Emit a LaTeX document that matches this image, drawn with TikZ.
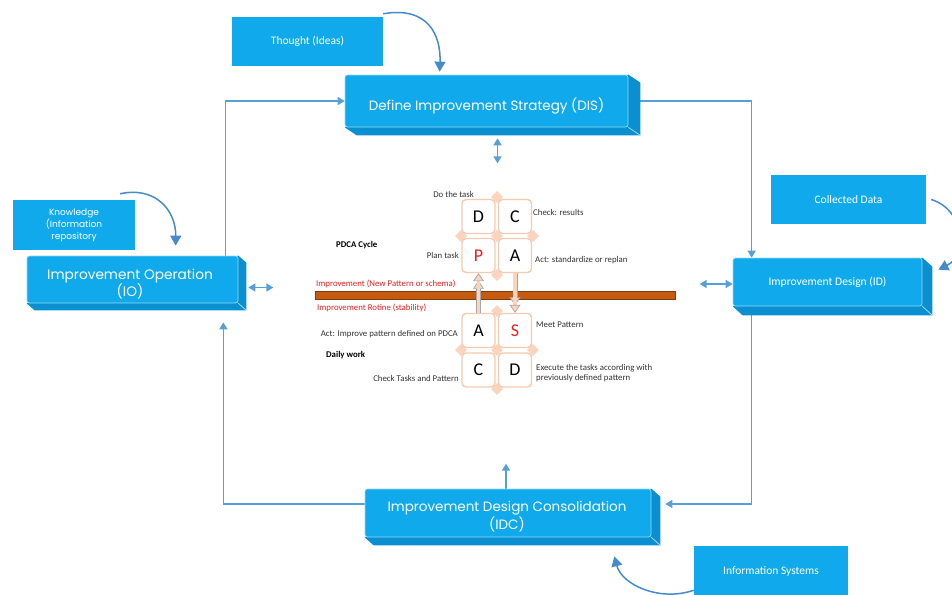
\documentclass[tikz,border=0pt]{standalone}
\usepackage{fontspec}
\setmainfont{Carlito}
\newfontfamily\gothic{Poppins}
\usetikzlibrary{calc,arrows.meta,backgrounds,shapes.geometric}

\definecolor{boxblue}{RGB}{16,170,236}
\definecolor{slabblue}{RGB}{10,143,208}
\definecolor{linkblue}{RGB}{86,160,218}
\definecolor{curveblue}{RGB}{70,140,205}
\definecolor{peachline}{RGB}{246,202,174}
\definecolor{peachfill}{RGB}{250,212,188}
\definecolor{barbrown}{RGB}{197,90,17}
\definecolor{bardark}{RGB}{130,60,12}
\definecolor{pdcared}{RGB}{235,30,30}

\tikzset{
  stage/.style={fill=boxblue, draw=white!55!boxblue, line width=0.7pt, rounded corners=2.5pt,
    text=white, align=center, inner sep=0pt},
  source/.style={fill=boxblue, text=white, font=\fontsize{11.5}{13}\selectfont, align=center, inner sep=0pt},
  link/.style={draw=linkblue, line width=1.5pt, -{Triangle[length=7pt,width=8pt]}},
  dbllink/.style={draw=linkblue, line width=1.5pt, {Triangle[length=7pt,width=8pt]}-{Triangle[length=7pt,width=8pt]}},
  feed/.style={draw=curveblue, line width=1.5pt, -{Triangle[length=10pt,width=11pt]}},
  cell/.style={draw=peachline, line width=1.4pt, fill=white, rounded corners=4pt,
    minimum width=33pt, minimum height=34pt, inner sep=0pt, font=\fontsize{18}{20}\selectfont},
  joint/.style={diamond, fill=peachfill, minimum size=12pt, inner sep=0pt},
  note/.style={font=\fontsize{8.8}{10.5}\selectfont, text=black!80, inner sep=0pt},
  rednote/.style={note, text=pdcared},
  boldnote/.style={note, font=\fontsize{8.8}{10.5}\selectfont\bfseries, text=black},
  shiftarrow/.style={preaction={draw=gray!70, line width=5pt, shorten >=7.5pt},
    draw=peachfill, line width=3.4pt,
    -{Triangle[length=8pt,width=11pt,line width=0.7pt,fill=peachfill,color=gray!70]}}
}

% side and bottom faces of a raised box
\newcommand{\drawslab}[3]{%
  \fill[slabblue] (#1.north east) -- ++(#2,#3) -- ($(#1.south east)+(#2,#3)$)
    -- ($(#1.south west)+(#2,#3)$) -- (#1.south west) -- cycle;
  \draw[white!70!slabblue, line width=0.7pt] (#1.south east) -- ++(#2,#3);
}

\begin{document}
\begin{tikzpicture}[x=1pt, y=-1pt]
\useasboundingbox (0,0) rectangle (952,594);

% process stages
\node[stage, minimum width=283pt, minimum height=52pt] (dis) at (486.5,101) {};
\node[font=\gothic\fontsize{13.5}{16}\selectfont, text=white, inner sep=0pt] (distext) at (486.5,106) {Define Improvement Strategy (DIS)};
\node[stage, minimum width=211pt, minimum height=47pt] (io) at (132.5,279.5) {};
\node[font=\gothic\fontsize{13.7}{16}\selectfont, text=white, align=center, inner sep=0pt] (iotext) at (130,284) {Improvement Operation\\(IO)};
\node[stage, minimum width=189pt, minimum height=48pt, font=\fontsize{11.6}{13}\selectfont]
  (id) at (827.5,282) {Improvement Design (ID)};
\node[stage, minimum width=286pt, minimum height=48pt] (idc) at (508,513) {};
\node[font=\gothic\fontsize{13.5}{18}\selectfont, text=white, align=center, inner sep=0pt] (idctext) at (507,517) {Improvement Design Consolidation\\(IDC)};

% inputs
\node[source, minimum width=151pt, minimum height=49pt] (thought) at (307.5,41.5) {Thought (Ideas)};
\node[source, minimum width=122pt, minimum height=50pt, font=\gothic\fontsize{9}{12}\selectfont]
  (knowledge) at (74,225) {Knowledge\\(Information\\repository};
\node[source, minimum width=155pt, minimum height=49pt] (collected) at (848.5,199.5) {Collected Data};
\node[source, minimum width=154pt, minimum height=50pt] (infosys) at (771,571) {Information Systems};

% PDCA cycle
\node[cell] (pd) at (478.5,216.5) {D};
\node[cell] (pc) at (515,216.5) {C};
\node[cell, text=pdcared] (pp) at (478.5,255.5) {P};
\node[cell] (pa) at (515,255.5) {A};
% daily work cycle
\node[cell] (da) at (478.5,330.5) {A};
\node[cell, text=pdcared] (ds) at (515,330.5) {S};
\node[cell] (dc) at (478.5,370) {C};
\node[cell] (dd) at (515,370) {D};

% labels
\node[note, anchor=east] (ldo) at (474,194) {Do the task};
\node[note, anchor=west] (lcheck) at (533,212) {Check: results};
\node[boldnote, anchor=west] (lpdca) at (336,245) {PDCA Cycle};
\node[note, anchor=east] (lplan) at (459,255) {Plan task};
\node[note, anchor=west] (lact) at (535,260) {Act: standardize or replan};
\node[rednote, anchor=west] (limp) at (316,284) {Improvement (New Pattern or schema)};
\node[rednote, anchor=west] (lrot) at (317,308) {Improvement Rotine (stability)};
\node[note, anchor=east] (lactd) at (458,334) {Act: Improve pattern defined on PDCA};
\node[note, anchor=west] (lmeet) at (536,325) {Meet Pattern};
\node[boldnote, anchor=west] (ldaily) at (326,355) {Daily work};
\node[note, anchor=east] (lchk) at (459,378) {Check Tasks and Pattern};
\node[note, anchor=north west, align=left] (lexec) at (536,364) {Execute the tasks according with\\previously defined pattern};

% arrows between the two cycles
\draw[shiftarrow] (da.north) -- (pp.south);
\draw[shiftarrow] (pa.south) -- (ds.north);

\begin{pgfonlayer}{background}
  \fill[white] (0,0) rectangle (952,594);

  % joints of the cycles
  \foreach \p [count=\i] in {(497,197),(461,236),(533,236),(497,275),(497,236),
                             (497,311),(461,350),(533,350),(497,389),(497,350)}
    \node[joint] (j\i) at \p {};

  % separating bar
  \fill[barbrown, draw=bardark, line width=0.5pt] (315,291) rectangle (675,299);

  % loop connectors
  \draw[link] ([xshift=-13pt]io.north east) |- (dis.west);
  \draw[link] (dis.east) -| ([xshift=19pt]id.north west);
  \draw[link] ([xshift=19pt]id.south west) |- ([xshift=14pt,yshift=9pt]idc.east);
  \draw[link] ([yshift=9pt]idc.west) -| ([xshift=-15pt,yshift=-19pt]io.south east);

  % exchanges with the centre
  \draw[dbllink] ([xshift=11pt,yshift=-11pt]dis.south) -- ++(0,25);
  \draw[dbllink] ([xshift=10pt,yshift=-8pt]io.east) -- ++(25,0);
  \draw[dbllink] ([xshift=-33pt,yshift=-2pt]id.west) -- ([yshift=-2pt]id.west);
  \draw[link] ([xshift=-2pt]idc.north) -- ++(0,-25);

  % raised box faces
  \drawslab{dis}{12}{8}
  \drawslab{io}{8}{7}
  \drawslab{id}{10}{9}
  \drawslab{idc}{9}{8}
\end{pgfonlayer}

% inputs feeding the stages
\draw[feed] ([yshift=3pt]thought.north east) .. controls (428,6) and (441,35) .. ([xshift=95pt,yshift=3pt]dis.north west);
\draw[feed] ([xshift=-15pt,yshift=6pt]knowledge.north east) .. controls (155,186) and (176,210) .. ([xshift=149pt,yshift=10pt]io.north west);
\draw[feed] ([xshift=5pt]collected.east) .. controls (965,210) and (968,255) .. ([xshift=16pt,yshift=-12pt]id.north east);
\draw[feed] ([yshift=6pt]infosys.south west) .. controls (660,602) and (622,585) .. ([xshift=-37pt,yshift=-19pt]idc.south east);
\end{tikzpicture}
\end{document}
